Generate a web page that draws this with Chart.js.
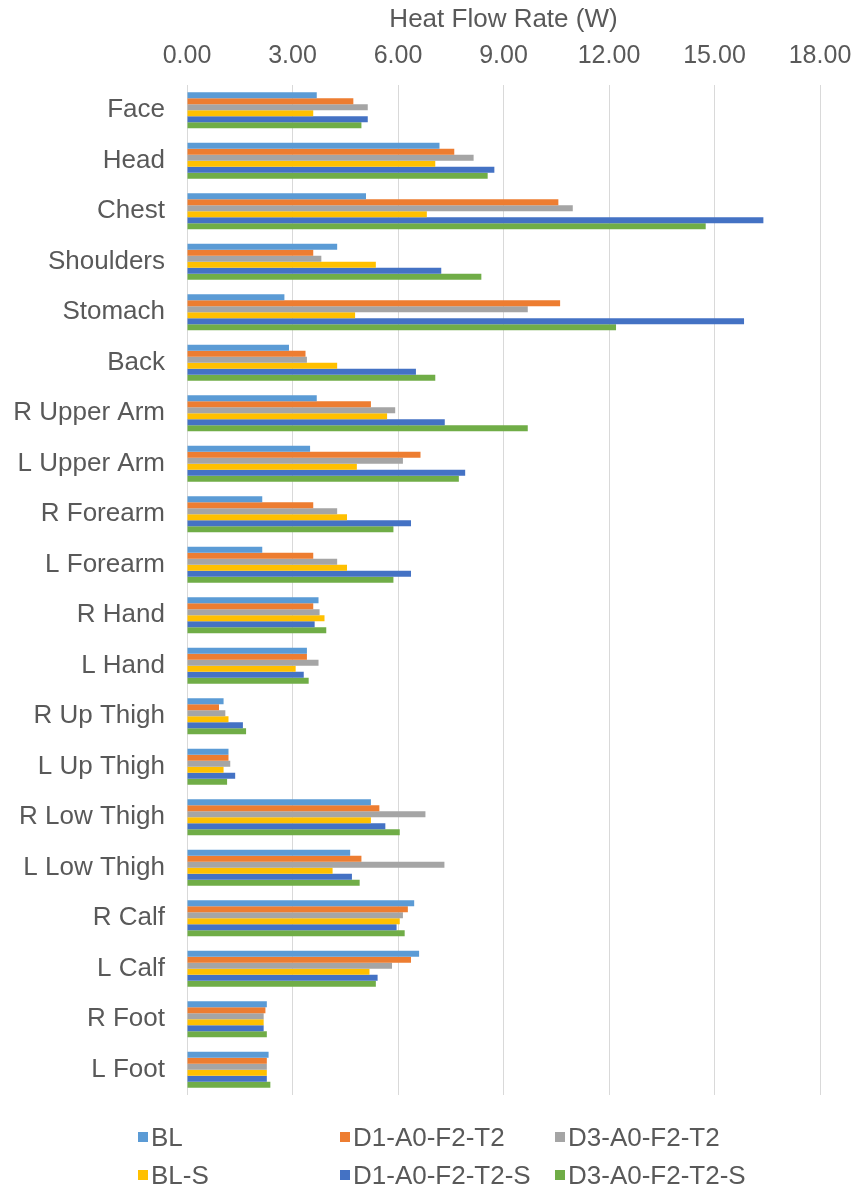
<!DOCTYPE html>
<html>
<head>
<meta charset="utf-8">
<script src="https://cdn.jsdelivr.net/npm/chart.js@4/dist/chart.umd.min.js"></script>
<style>
  html, body { margin: 0; padding: 0; background: #fff; }
  #wrap { position: relative; width: 859px; height: 1189px; }
  #legend { position: absolute; left: 0; top: 0; width: 859px; height: 1189px; pointer-events: none;
            font-family: "Liberation Sans", Arial, sans-serif; font-size: 26px; color: #595959; }
  .item { position: absolute; white-space: nowrap; line-height: 30px; height: 30px; }
  .box { display: inline-block; width: 10px; height: 10px; margin-right: 3px; vertical-align: middle; position: relative; top: -2px; }
</style>
</head>
<body>
<div id="wrap">
  <canvas id="c" width="859" height="1189"></canvas>
  <div id="legend"></div>
</div>
<script>
const categories = ["Face","Head","Chest","Shoulders","Stomach","Back","R Upper Arm","L Upper Arm","R Forearm","L Forearm","R Hand","L Hand","R Up Thigh","L Up Thigh","R Low Thigh","L Low Thigh","R Calf","L Calf","R Foot","L Foot"];
const seriesNames = ["BL","D1-A0-F2-T2","D3-A0-F2-T2","BL-S","D1-A0-F2-T2-S","D3-A0-F2-T2-S"];
const seriesColors = ["#5B9BD5","#ED7D31","#A5A5A5","#FFC000","#4472C4","#70AD47"];
const BL      = [3.69,7.18,5.09,4.27,2.77,2.90,3.69,3.50,2.14,2.14,3.74,3.41,1.04,1.18,5.23,4.64,6.46,6.60,2.27,2.32];
const D1      = [4.73,7.60,10.56,3.59,10.61,3.37,5.23,6.64,3.59,3.59,3.59,3.41,0.91,1.18,5.47,4.96,6.28,6.37,2.23,2.27];
const D3      = [5.14,8.15,10.97,3.82,9.69,3.41,5.92,6.14,4.27,4.27,3.77,3.74,1.09,1.23,6.78,7.32,6.14,5.83,2.18,2.27];
const BLS     = [3.59,7.06,6.82,5.37,4.78,4.27,5.69,4.83,4.55,4.55,3.91,3.09,1.18,1.04,5.23,4.14,6.05,5.19,2.18,2.27];
const D1S     = [5.14,8.74,16.39,7.23,15.84,6.51,7.33,7.91,6.37,6.37,3.63,3.32,1.59,1.37,5.64,4.69,5.96,5.42,2.18,2.27];
const D3S     = [4.96,8.55,14.75,8.37,12.20,7.06,9.69,7.73,5.87,5.87,3.96,3.46,1.68,1.14,6.05,4.91,6.19,5.37,2.27,2.37];
const xTicks = [0,3,6,9,12,15,18];
const seriesData = [BL, D1, D3, BLS, D1S, D3S];

const FONT = '"Liberation Sans", Arial, sans-serif';
const TXT = '#595959';

const datasets = seriesNames.map((n, i) => ({
  label: n,
  data: seriesData[i],
  backgroundColor: seriesColors[i],
  borderWidth: 0,
  categoryPercentage: 0.714,
  barPercentage: 1.0
}));

new Chart(document.getElementById('c'), {
  type: 'bar',
  data: { labels: categories, datasets },
  options: {
    indexAxis: 'y',
    responsive: false,
    animation: false,
    layout: { padding: { left: 0, right: 39, top: 0, bottom: 94 } },
    plugins: { legend: { display: false }, tooltip: { enabled: false } },
    scales: {
      x: {
        position: 'top',
        min: 0, max: 18,
        afterBuildTicks: (s) => { s.ticks = xTicks.map(v => ({ value: v })); },
        afterFit: (s) => { s.height = 85; s.paddingLeft = 0; s.paddingRight = 0; },
        ticks: {
          callback: (v) => Number(v).toFixed(2),
          color: TXT, font: { family: FONT, size: 25 }, padding: 14
        },
        grid: { color: '#D9D9D9', lineWidth: 1, drawTicks: false },
        border: { display: false },
        title: { display: true, text: 'Heat Flow Rate (W)', color: TXT, font: { family: FONT, size: 26 }, padding: { top: 4, bottom: 0 } }
      },
      y: {
        afterFit: (s) => { s.width = 187; },
        ticks: { color: TXT, font: { family: FONT, size: 26 }, padding: 22 },
        grid: { display: false, drawTicks: false },
        border: { display: false }
      }
    }
  }
});

// HTML legend built from the series arrays
const legendPos = [[138,1122],[340,1122],[555,1122],[138,1160],[340,1160],[555,1160]];
const lg = document.getElementById('legend');
seriesNames.forEach((n, i) => {
  const d = document.createElement('div');
  d.className = 'item';
  d.style.left = legendPos[i][0] + 'px';
  d.style.top = legendPos[i][1] + 'px';
  const b = document.createElement('span');
  b.className = 'box';
  b.style.background = seriesColors[i];
  d.appendChild(b);
  d.appendChild(document.createTextNode(n));
  lg.appendChild(d);
});
</script>
</body>
</html>
